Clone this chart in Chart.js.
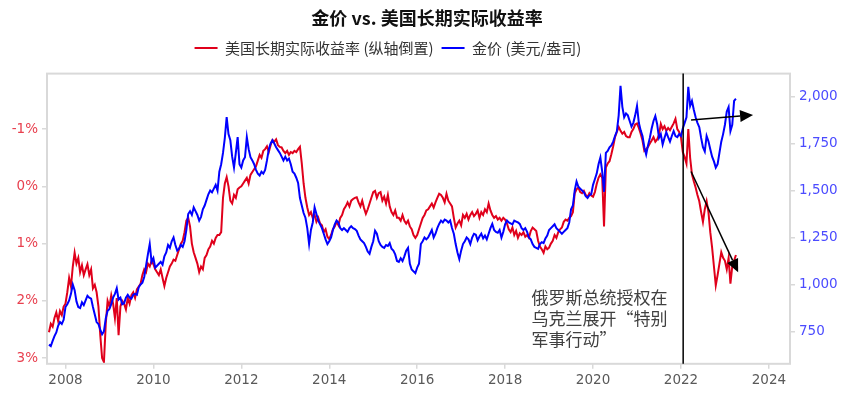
<!DOCTYPE html>
<html>
  <head>
    <title>金价 vs. 美国长期实际收益率</title>
    <script src="https://cdn.jsdelivr.net/npm/chart.js"></script>
    <style>
      body {
        margin: 0;
        background-color: white;
      }
      .chart-container {
        position: relative;
        width: 844px;
        height: 397px;
      }
    </style>
  </head>
  <body>
    <div class="chart-container">
      <canvas id="goldChart"></canvas>
    </div>

    <script>
      // 半月数据，第一个点 2007.625，之后每 1/24 年一个点
      const startYear = 2007.625;

      // 美国10年期TIPS实际收益率 (%)
      const realYield = [
        2.55, 2.40, 2.45, 2.30, 2.20, 2.35, 2.18, 2.25, 2.10, // 2007
        2.05, 1.85, 1.60, 1.75, 1.40, 1.16, 1.35, 1.25, 1.50, 1.38, 1.55, 1.45, 1.36, 1.55, 1.45, 1.78, 1.72, 1.85, 2.10, 2.60, 3.00, 3.07, 2.40, 2.00, // 2008
        2.10, 1.90, 2.05, 2.30, 1.95, 2.60, 2.10, 2.00, 2.05, 2.15, 1.95, 2.05, 1.90, 1.85, 1.95, 1.80, 1.75, 1.70, 1.55, 1.45, 1.50, 1.35, 1.40, 1.30, // 2009
        1.36, 1.45, 1.50, 1.55, 1.45, 1.60, 1.74, 1.60, 1.50, 1.40, 1.35, 1.28, 1.30, 1.20, 1.10, 1.00, 0.95, 0.80, 0.60, 0.55, 0.70, 1.00, 1.15, 1.25, // 2010
        1.35, 1.50, 1.40, 1.45, 1.25, 1.20, 1.10, 1.05, 0.95, 1.00, 0.90, 0.85, 0.85, 0.80, 0.20, -0.05, -0.16, 0.00, 0.25, 0.30, 0.15, 0.20, 0.05, 0.02, // 2011
        0.00, -0.05, -0.10, -0.15, -0.05, -0.20, -0.25, -0.30, -0.35, -0.45, -0.55, -0.50, -0.62, -0.65, -0.70, -0.60, -0.72, -0.81, -0.78, -0.82, -0.72, -0.69, -0.68, -0.62, // 2012
        -0.58, -0.62, -0.55, -0.60, -0.58, -0.62, -0.60, -0.65, -0.69, -0.40, -0.05, 0.20, 0.37, 0.50, 0.45, 0.55, 0.50, 0.62, 0.55, 0.65, 0.68, 0.80, 0.75, 0.88, // 2013
        0.92, 0.85, 0.75, 0.70, 0.62, 0.68, 0.55, 0.50, 0.40, 0.35, 0.28, 0.35, 0.25, 0.22, 0.20, 0.19, 0.28, 0.35, 0.25, 0.38, 0.48, 0.40, 0.30, 0.20, // 2014
        0.10, 0.08, 0.20, 0.12, 0.10, 0.25, 0.18, 0.30, 0.15, 0.35, 0.45, 0.50, 0.42, 0.55, 0.55, 0.60, 0.50, 0.60, 0.65, 0.60, 0.70, 0.75, 0.85, 0.90, // 2015
        0.85, 0.75, 0.65, 0.55, 0.50, 0.42, 0.40, 0.35, 0.30, 0.37, 0.28, 0.20, 0.13, 0.15, 0.20, 0.28, 0.13, 0.25, 0.30, 0.35, 0.55, 0.72, 0.65, 0.60, // 2016
        0.68, 0.50, 0.55, 0.48, 0.58, 0.50, 0.45, 0.52, 0.48, 0.42, 0.55, 0.45, 0.50, 0.40, 0.45, 0.30, 0.42, 0.50, 0.55, 0.52, 0.58, 0.55, 0.60, 0.55, // 2017
        0.58, 0.65, 0.75, 0.80, 0.72, 0.85, 0.78, 0.90, 0.82, 0.85, 0.80, 0.88, 0.85, 0.90, 0.78, 0.72, 0.75, 0.78, 0.95, 1.05, 1.10, 1.16, 1.05, 1.10, // 2018
        1.07, 1.00, 0.95, 0.85, 0.90, 0.80, 0.75, 0.72, 0.62, 0.58, 0.60, 0.55, 0.52, 0.45, 0.12, 0.05, 0.02, 0.10, 0.12, 0.08, 0.15, 0.19, 0.12, 0.16, // 2019
        0.18, 0.10, -0.04, -0.15, -0.21, -0.15, 0.70, -0.33, -0.40, -0.44, -0.56, -0.70, -0.86, -0.95, -1.04, -0.97, -0.92, -0.95, -0.88, -0.86, -0.86, -0.95, -1.00, -1.08, // 2020
        -1.10, -1.02, -0.92, -0.80, -0.62, -0.65, -0.69, -0.75, -0.80, -0.86, -0.78, -0.82, -0.90, -1.09, -1.00, -1.05, -0.97, -1.02, -0.98, -1.04, -1.10, -1.18, -1.00, -0.95, // 2021
        -0.86, -0.60, -0.51, -0.40, -1.00, -0.50, -0.21, -0.09, 0.02, 0.15, 0.26, 0.45, 0.62, 0.40, 0.26, 0.45, 0.80, 1.07, 1.40, 1.73, 1.55, 1.35, 1.15, 1.25, // 2022
        1.30, 1.45, 1.25, 1.70, 1.40, 1.30, 1.20, // 2023
      ];

      // 金价 (美元/盎司)
      const goldPrice = [
        680, 672, 700, 725, 745, 780, 800, 790, 812, // 2007
        880, 895, 915, 950, 1000, 970, 910, 880, 875, 905, 890, 915, 940, 930, 925, 880, 840, 800, 790, 760, 735, 750, 820, 860, // 2008
        870, 895, 930, 950, 980, 920, 930, 895, 900, 930, 945, 930, 925, 945, 950, 945, 985, 1000, 1010, 1040, 1100, 1160, 1215, 1120, // 2009
        1140, 1090, 1100, 1110, 1120, 1105, 1150, 1170, 1210, 1195, 1230, 1250, 1210, 1180, 1190, 1210, 1200, 1230, 1290, 1375, 1390, 1370, 1410, 1390, // 2010
        1370, 1340, 1360, 1400, 1420, 1450, 1480, 1500, 1490, 1510, 1530, 1500, 1600, 1640, 1700, 1780, 1890, 1800, 1767, 1680, 1622, 1700, 1784, 1640, // 2011
        1622, 1660, 1677, 1784, 1720, 1677, 1660, 1640, 1610, 1590, 1580, 1600, 1590, 1610, 1660, 1720, 1750, 1767, 1750, 1730, 1715, 1700, 1680, 1660, // 2012
        1680, 1660, 1670, 1640, 1600, 1590, 1568, 1540, 1460, 1420, 1380, 1355, 1300, 1215, 1290, 1330, 1410, 1375, 1340, 1320, 1300, 1270, 1240, 1215, // 2013
        1230, 1250, 1290, 1320, 1340, 1330, 1300, 1290, 1300, 1290, 1280, 1300, 1310, 1300, 1295, 1285, 1260, 1240, 1230, 1220, 1200, 1175, 1163, 1200, // 2014
        1230, 1286, 1270, 1230, 1210, 1200, 1195, 1210, 1205, 1220, 1190, 1180, 1160, 1125, 1120, 1140, 1125, 1150, 1180, 1195, 1110, 1080, 1070, 1060, // 2015
        1090, 1110, 1215, 1230, 1250, 1240, 1250, 1270, 1290, 1250, 1270, 1300, 1322, 1340, 1330, 1345, 1340, 1330, 1340, 1300, 1270, 1215, 1170, 1135, // 2016
        1180, 1215, 1230, 1250, 1240, 1215, 1250, 1270, 1265, 1235, 1255, 1270, 1245, 1260, 1240, 1270, 1300, 1322, 1290, 1280, 1275, 1290, 1250, 1280, // 2017
        1320, 1340, 1330, 1325, 1320, 1340, 1335, 1330, 1322, 1300, 1290, 1300, 1280, 1250, 1240, 1215, 1200, 1195, 1190, 1215, 1225, 1220, 1245, 1260, // 2018
        1290, 1300, 1310, 1320, 1300, 1290, 1280, 1270, 1280, 1290, 1300, 1330, 1400, 1420, 1500, 1548, 1520, 1510, 1500, 1490, 1470, 1460, 1475, 1480, // 2019
        1530, 1560, 1590, 1640, 1675, 1600, 1493, 1700, 1710, 1730, 1740, 1760, 1790, 1815, 1900, 2057, 1945, 1890, 1910, 1900, 1870, 1840, 1860, 1900, // 2020
        1950, 1860, 1820, 1790, 1730, 1692, 1740, 1780, 1830, 1870, 1896, 1853, 1780, 1800, 1745, 1780, 1810, 1784, 1760, 1790, 1816, 1790, 1784, 1800, // 2021
        1790, 1830, 1860, 1890, 2052, 1950, 1977, 1930, 1890, 1860, 1837, 1780, 1730, 1708, 1790, 1762, 1720, 1680, 1655, 1622, 1640, 1700, 1760, 1800, // 2022
        1850, 1920, 1944, 1816, 1850, 1977, 1988, // 2023
      ];

      const yearTicks = [2008, 2010, 2012, 2014, 2016, 2018, 2020, 2022, 2024];
      const yieldTicks = [-1, 0, 1, 2, 3];
      const goldTicks = [750, 1000, 1250, 1500, 1750, 2000];

      // 注释：事件时间、箭头端点 (数据单位)、文字
      const eventYear = 2022.05;
      const goldArrow = [[2022.23, 1875], [2023.64, 1902]];
      const yieldArrow = [[2022.23, -0.26], [2023.3, 1.5]];
      const noteAt = [2018.6, 1.95];
      const noteLines = ["俄罗斯总统授权在", "乌克兰展开“特别", "军事行动”"];

      const toPoints = (arr) =>
        arr.map((v, i) => ({ x: startYear + i / 24, y: v }));

      function drawArrow(ctx, x0, y0, x1, y1) {
        const ang = Math.atan2(y1 - y0, x1 - x0);
        const head = 13;
        const half = 6;
        const bx = x1 - head * Math.cos(ang);
        const by = y1 - head * Math.sin(ang);
        ctx.beginPath();
        ctx.moveTo(x0, y0);
        ctx.lineTo(bx, by);
        ctx.stroke();
        ctx.beginPath();
        ctx.moveTo(x1, y1);
        ctx.lineTo(bx + half * Math.sin(ang), by - half * Math.cos(ang));
        ctx.lineTo(bx - half * Math.sin(ang), by + half * Math.cos(ang));
        ctx.closePath();
        ctx.fill();
      }

      const overlay = {
        id: "overlay",
        afterLayout(chart) {
          // 标题、图例上移并左右微调
          const up = 8;
          chart.titleBlock.top -= up;
          chart.titleBlock.bottom -= up;
          chart.titleBlock.left += 5;
          chart.titleBlock.right += 5;
          chart.legend.top -= up;
          chart.legend.bottom -= up;
          chart.legend.left -= 34;
          chart.legend.right -= 34;
        },
        afterDatasetsDraw(chart) {
          const { ctx, chartArea: a, scales } = chart;
          const { x, y, y1 } = scales;
          ctx.save();
          ctx.strokeStyle = "#d9d9d9";
          ctx.lineWidth = 2;
          ctx.strokeRect(a.left, a.top, a.right - a.left, a.bottom - a.top);

          const ex = x.getPixelForValue(eventYear);
          ctx.strokeStyle = "#000";
          ctx.fillStyle = "#000";
          ctx.lineWidth = 1.5;
          ctx.beginPath();
          ctx.moveTo(ex, a.top);
          ctx.lineTo(ex, a.bottom);
          ctx.stroke();

          drawArrow(
            ctx,
            x.getPixelForValue(goldArrow[0][0]), y1.getPixelForValue(goldArrow[0][1]),
            x.getPixelForValue(goldArrow[1][0]), y1.getPixelForValue(goldArrow[1][1])
          );
          drawArrow(
            ctx,
            x.getPixelForValue(yieldArrow[0][0]), y.getPixelForValue(yieldArrow[0][1]),
            x.getPixelForValue(yieldArrow[1][0]), y.getPixelForValue(yieldArrow[1][1])
          );

          ctx.fillStyle = "#404040";
          ctx.font = "17px 'Noto Sans CJK SC'";
          ctx.textBaseline = "middle";
          const tx = x.getPixelForValue(noteAt[0]);
          const ty = y.getPixelForValue(noteAt[1]);
          noteLines.forEach((t, i) => ctx.fillText(t, tx, ty + i * 21));
          ctx.restore();
        },
      };

      const tickFont = { family: "DejaVu Sans", size: 13.5 };
      const sideGrid = {
        display: true,
        drawOnChartArea: false,
        drawTicks: true,
        tickLength: 5,
        color: "#d9d9d9",
        lineWidth: 1.5,
      };

      const ctx = document.getElementById("goldChart").getContext("2d");
      new Chart(ctx, {
        type: "line",
        data: {
          datasets: [
            {
              label: "美国长期实际收益率 (纵轴倒置)",
              data: toPoints(realYield),
              borderColor: "#e0001b",
              backgroundColor: "#e0001b",
              borderWidth: 2,
              pointRadius: 0,
              yAxisID: "y",
              order: 1,
            },
            {
              label: "金价 (美元/盎司)",
              data: toPoints(goldPrice),
              borderColor: "#0000ff",
              backgroundColor: "#0000ff",
              borderWidth: 2,
              pointRadius: 0,
              yAxisID: "y1",
              order: 0,
            },
          ],
        },
        options: {
          responsive: true,
          maintainAspectRatio: false,
          animation: false,
          layout: { padding: { top: 8, bottom: 4 } },
          plugins: {
            title: {
              display: true,
              text: "金价 vs. 美国长期实际收益率",
              color: "#111",
              font: { family: "Noto Sans CJK SC", size: 18, weight: "bold" },
              padding: { top: 7, bottom: 4 },
            },
            legend: {
              position: "top",
              labels: {
                color: "#333",
                font: { family: "Noto Sans CJK SC", size: 15 },
                boxWidth: 23,
                boxHeight: 2,
                padding: 8,
                sort: (a, b) => a.datasetIndex - b.datasetIndex,
                generateLabels: (chart) =>
                  Chart.defaults.plugins.legend.labels
                    .generateLabels(chart)
                    .map((l) => ({ ...l, lineWidth: 0 })),
              },
            },
            tooltip: { enabled: false },
          },
          scales: {
            x: {
              type: "linear",
              min: 2007.58,
              max: 2024.48,
              afterBuildTicks: (axis) => {
                axis.ticks = yearTicks.map((v) => ({ value: v }));
              },
              ticks: {
                callback: (v) => String(v),
                color: "#595959",
                font: tickFont,
                padding: 4,
                maxRotation: 0,
                autoSkip: false,
              },
              grid: sideGrid,
              border: { display: false },
            },
            y: {
              position: "left",
              reverse: true,
              min: -1.97,
              max: 3.1,
              afterBuildTicks: (axis) => {
                axis.ticks = yieldTicks.map((v) => ({ value: v }));
              },
              afterFit: (axis) => {
                axis.width = 47;
              },
              ticks: {
                callback: (v) => v + "%",
                color: "#e8404f",
                font: tickFont,
                padding: 4,
              },
              grid: sideGrid,
              border: { display: false },
            },
            y1: {
              position: "right",
              min: 578,
              max: 2122,
              afterBuildTicks: (axis) => {
                axis.ticks = goldTicks.map((v) => ({ value: v }));
              },
              afterFit: (axis) => {
                axis.width = 54;
              },
              ticks: {
                callback: (v) => v.toLocaleString("en-US"),
                color: "#4b4bff",
                font: tickFont,
                padding: 4,
              },
              grid: sideGrid,
              border: { display: false },
            },
          },
        },
        plugins: [overlay],
      });
    </script>
  </body>
</html>
